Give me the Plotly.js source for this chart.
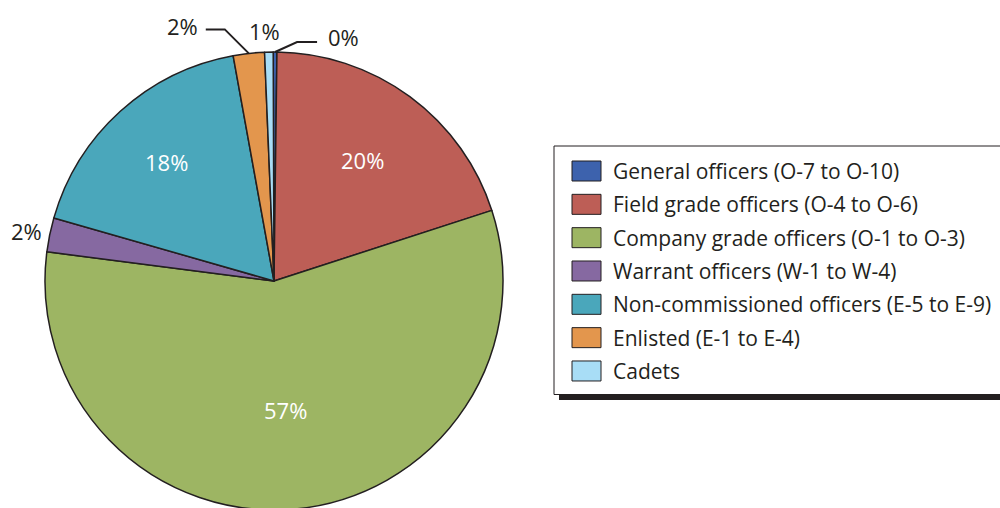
<!DOCTYPE html>
<html><head><meta charset="utf-8">
<script src="https://cdn.plot.ly/plotly-3.0.1.min.js"></script>
<style>html,body{margin:0;padding:0;overflow:hidden;background:#fff}#chart{width:1000px;height:540px}</style>
</head><body><div id="chart"></div>
<script>
const categories = [
  "General officers (O-7 to O-10)",
  "Field grade officers (O-4 to O-6)",
  "Company grade officers (O-1 to O-3)",
  "Warrant officers (W-1 to W-4)",
  "Non-commissioned officers (E-5 to E-9)",
  "Enlisted (E-1 to E-4)",
  "Cadets"
];
const shares = [0.26, 19.8, 57.0, 2.4, 17.7, 2.2, 0.6];
const colors = ["#3d62ad", "#bd5e56", "#9db563", "#8669a1", "#4aa7bb", "#e3964d", "#a8ddf6"];

// ---- layout constants (pixels) ----
const W = 1000, H = 540;
const cx = 274, cy = 281, r = 229, rotation = -0.2;
const ink = "#231f20";
const FONT = "Open Sans, sans-serif";
const px = x => x / W, py = y => 1 - y / H;

// label styling per slice: inside labels sit at a fraction of the radius;
// outside labels are offset from the slice's edge point, with optional leader-line elbow
const labelStyle = [
  {dx: 51, dy: -15, anchor: "left", elbow: [22, -10], end: [42, -10]},
  {inside: 0.655},
  {inside: 0.565},
  {dx: -6, dy: -4, anchor: "right"},
  {inside: 0.70},
  {dx: -49, dy: -27, anchor: "right", elbow: [-24, -24], end: [-43, -24]},
  {dx: -4, dy: -21, anchor: "center"}
];

const total = shares.reduce((a, b) => a + b, 0);
const annotations = [];
const shapes = [];
let cum = 0;
shares.forEach((v, i) => {
  const mid = rotation + (cum + v / 2) / total * 360;
  cum += v;
  const t = mid * Math.PI / 180;
  const s = labelStyle[i];
  const txt = Math.round(v / total * 100) + "%";
  if (s.inside) {
    annotations.push({
      xref: "paper", yref: "paper",
      x: px(cx + s.inside * r * Math.sin(t)), y: py(cy - s.inside * r * Math.cos(t)),
      xanchor: "center", yanchor: "middle", showarrow: false, text: txt,
      font: {family: FONT, size: 22, color: "#ffffff"}
    });
    return;
  }
  const ex = cx + r * Math.sin(t), ey = cy - r * Math.cos(t);
  annotations.push({
    xref: "paper", yref: "paper", x: px(ex + s.dx), y: py(ey + s.dy),
    xanchor: s.anchor, yanchor: "middle", showarrow: false, text: txt,
    font: {family: FONT, size: 22, color: ink}
  });
  if (s.elbow) {
    shapes.push({
      type: "path", xref: "paper", yref: "paper",
      path: `M${px(ex)},${py(ey)} L${px(ex + s.elbow[0])},${py(ey + s.elbow[1])} L${px(ex + s.end[0])},${py(ey + s.end[1])}`,
      line: {color: ink, width: 2}
    });
  }
});

// ---- custom legend (box, shadow, swatches, labels) ----
const legL = 554, legT = 146, legB = 394.5, rowY0 = 171, rowStep = 33.33;
shapes.push({type: "rect", xref: "paper", yref: "paper", x0: px(559), x1: px(1005), y0: py(400), y1: py(394.5),
  fillcolor: ink, line: {width: 0}});
shapes.push({type: "rect", xref: "paper", yref: "paper", x0: px(legL), x1: px(1010), y0: py(legB), y1: py(legT),
  fillcolor: "#ffffff", line: {color: ink, width: 1}});
categories.forEach((c, i) => {
  const yc = rowY0 + i * rowStep;
  shapes.push({type: "rect", xref: "paper", yref: "paper", x0: px(572), x1: px(601), y0: py(yc + 10), y1: py(yc - 10),
    fillcolor: colors[i], line: {color: ink, width: 1}});
  annotations.push({xref: "paper", yref: "paper", x: px(611), y: py(yc), xanchor: "left", yanchor: "middle",
    showarrow: false, text: c, font: {family: FONT, size: 21, color: ink}});
});

const data = [{
  type: "pie",
  labels: categories,
  values: shares,
  sort: false,
  direction: "clockwise",
  rotation: rotation,
  marker: {colors: colors, line: {color: ink, width: 1.5}},
  textinfo: "none",
  hoverinfo: "none",
  showlegend: false,
  domain: {x: [px(cx - r), px(cx + r)], y: [py(cy + r), py(cy - r)]}
}];

const layout = {
  width: W, height: H,
  margin: {l: 0, r: 0, t: 0, b: 0},
  paper_bgcolor: "#ffffff",
  font: {family: FONT, size: 20, color: ink},
  showlegend: false,
  shapes: shapes,
  annotations: annotations
};

Plotly.newPlot("chart", data, layout, {staticPlot: true});
</script></body></html>
